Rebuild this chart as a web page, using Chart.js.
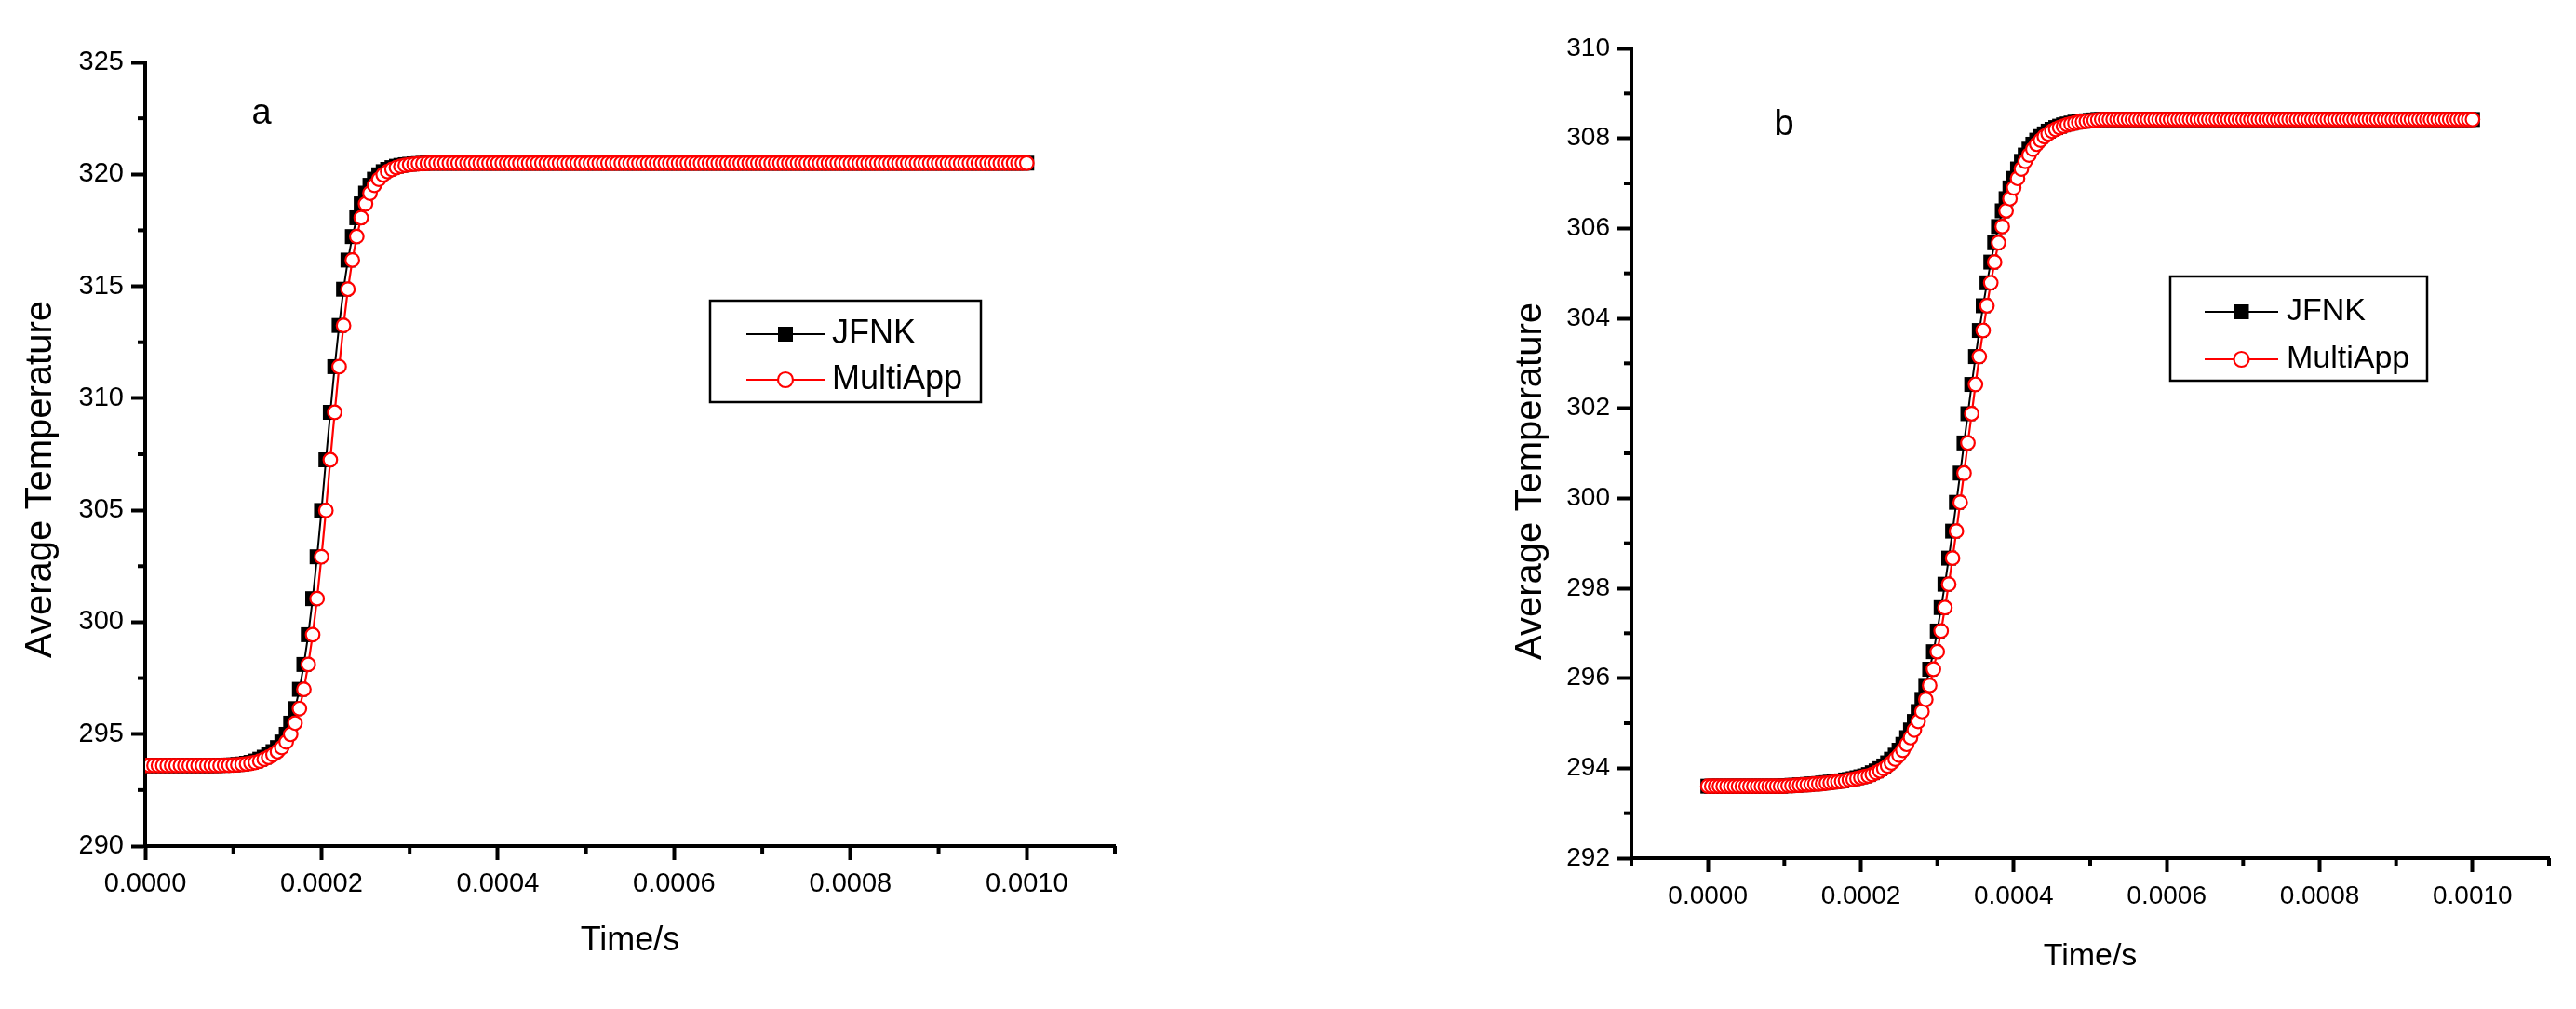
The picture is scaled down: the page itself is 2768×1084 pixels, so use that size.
<!DOCTYPE html>
<html>
<head>
<meta charset="utf-8">
<title>Average Temperature: JFNK vs MultiApp</title>
<script src="https://cdn.jsdelivr.net/npm/chart.js@4/dist/chart.umd.min.js"></script>
<style>
  html, body { margin: 0; padding: 0; background: #fff; }
  #page { position: relative; width: 2768px; height: 1084px; background: #fff; }
  #page canvas { position: absolute; top: 0; }
  #chartA { left: 0; }
  #chartB { left: 1384px; }
</style>
</head>
<body>
<div id="page">
  <canvas id="chartA" width="1384" height="1084"></canvas>
  <canvas id="chartB" width="1384" height="1084"></canvas>
</div>
<script>
// time steps in microseconds (axis labels are shown in seconds)
const timeUs = [
  0, 5, 10, 15, 20, 25, 30, 35, 40, 45, 50, 55, 60, 65, 70, 75, 80, 85, 90, 95,
  100, 105, 110, 115, 120, 125, 130, 135, 140, 145, 150, 155, 160, 165, 170, 175, 180, 185, 190, 195,
  200, 205, 210, 215, 220, 225, 230, 235, 240, 245, 250, 255, 260, 265, 270, 275, 280, 285, 290, 295,
  300, 305, 310, 315, 320, 325, 330, 335, 340, 345, 350, 355, 360, 365, 370, 375, 380, 385, 390, 395,
  400, 405, 410, 415, 420, 425, 430, 435, 440, 445, 450, 455, 460, 465, 470, 475, 480, 485, 490, 495,
  500, 505, 510, 515, 520, 525, 530, 535, 540, 545, 550, 555, 560, 565, 570, 575, 580, 585, 590, 595,
  600, 605, 610, 615, 620, 625, 630, 635, 640, 645, 650, 655, 660, 665, 670, 675, 680, 685, 690, 695,
  700, 705, 710, 715, 720, 725, 730, 735, 740, 745, 750, 755, 760, 765, 770, 775, 780, 785, 790, 795,
  800, 805, 810, 815, 820, 825, 830, 835, 840, 845, 850, 855, 860, 865, 870, 875, 880, 885, 890, 895,
  900, 905, 910, 915, 920, 925, 930, 935, 940, 945, 950, 955, 960, 965, 970, 975, 980, 985, 990, 995,
  1000
]

// panel a
const jfnkA = [
  293.6, 293.6, 293.6, 293.6, 293.6, 293.6, 293.6, 293.6, 293.6, 293.6,
  293.6, 293.6, 293.6, 293.6, 293.6, 293.6, 293.6, 293.61, 293.61, 293.62,
  293.63, 293.65, 293.67, 293.7, 293.74, 293.8, 293.88, 293.97, 294.08, 294.22,
  294.4, 294.65, 294.99, 295.49, 296.14, 297.0, 298.11, 299.44, 301.05, 302.92,
  304.99, 307.25, 309.37, 311.41, 313.25, 314.87, 316.17, 317.22, 318.06, 318.68,
  319.16, 319.51, 319.78, 319.98, 320.12, 320.22, 320.3, 320.36, 320.4, 320.43,
  320.45, 320.47, 320.48, 320.49, 320.5, 320.5, 320.5, 320.5, 320.5, 320.5,
  320.5, 320.5, 320.5, 320.5, 320.5, 320.5, 320.5, 320.5, 320.5, 320.5,
  320.5, 320.5, 320.5, 320.5, 320.5, 320.5, 320.5, 320.5, 320.5, 320.5,
  320.5, 320.5, 320.5, 320.5, 320.5, 320.5, 320.5, 320.5, 320.5, 320.5,
  320.5, 320.5, 320.5, 320.5, 320.5, 320.5, 320.5, 320.5, 320.5, 320.5,
  320.5, 320.5, 320.5, 320.5, 320.5, 320.5, 320.5, 320.5, 320.5, 320.5,
  320.5, 320.5, 320.5, 320.5, 320.5, 320.5, 320.5, 320.5, 320.5, 320.5,
  320.5, 320.5, 320.5, 320.5, 320.5, 320.5, 320.5, 320.5, 320.5, 320.5,
  320.5, 320.5, 320.5, 320.5, 320.5, 320.5, 320.5, 320.5, 320.5, 320.5,
  320.5, 320.5, 320.5, 320.5, 320.5, 320.5, 320.5, 320.5, 320.5, 320.5,
  320.5, 320.5, 320.5, 320.5, 320.5, 320.5, 320.5, 320.5, 320.5, 320.5,
  320.5, 320.5, 320.5, 320.5, 320.5, 320.5, 320.5, 320.5, 320.5, 320.5,
  320.5, 320.5, 320.5, 320.5, 320.5, 320.5, 320.5, 320.5, 320.5, 320.5,
  320.5, 320.5, 320.5, 320.5, 320.5, 320.5, 320.5, 320.5, 320.5, 320.5,
  320.5
]
const multiAppA = [
  293.6, 293.6, 293.6, 293.6, 293.6, 293.6, 293.6, 293.6, 293.6, 293.6,
  293.6, 293.6, 293.6, 293.6, 293.6, 293.6, 293.6, 293.6, 293.61, 293.61,
  293.62, 293.63, 293.65, 293.67, 293.7, 293.74, 293.8, 293.88, 293.97, 294.08,
  294.22, 294.4, 294.65, 294.99, 295.49, 296.14, 297.0, 298.11, 299.44, 301.05,
  302.92, 304.99, 307.25, 309.37, 311.41, 313.25, 314.87, 316.17, 317.22, 318.06,
  318.68, 319.16, 319.51, 319.78, 319.98, 320.12, 320.22, 320.3, 320.36, 320.4,
  320.43, 320.45, 320.47, 320.48, 320.49, 320.5, 320.5, 320.5, 320.5, 320.5,
  320.5, 320.5, 320.5, 320.5, 320.5, 320.5, 320.5, 320.5, 320.5, 320.5,
  320.5, 320.5, 320.5, 320.5, 320.5, 320.5, 320.5, 320.5, 320.5, 320.5,
  320.5, 320.5, 320.5, 320.5, 320.5, 320.5, 320.5, 320.5, 320.5, 320.5,
  320.5, 320.5, 320.5, 320.5, 320.5, 320.5, 320.5, 320.5, 320.5, 320.5,
  320.5, 320.5, 320.5, 320.5, 320.5, 320.5, 320.5, 320.5, 320.5, 320.5,
  320.5, 320.5, 320.5, 320.5, 320.5, 320.5, 320.5, 320.5, 320.5, 320.5,
  320.5, 320.5, 320.5, 320.5, 320.5, 320.5, 320.5, 320.5, 320.5, 320.5,
  320.5, 320.5, 320.5, 320.5, 320.5, 320.5, 320.5, 320.5, 320.5, 320.5,
  320.5, 320.5, 320.5, 320.5, 320.5, 320.5, 320.5, 320.5, 320.5, 320.5,
  320.5, 320.5, 320.5, 320.5, 320.5, 320.5, 320.5, 320.5, 320.5, 320.5,
  320.5, 320.5, 320.5, 320.5, 320.5, 320.5, 320.5, 320.5, 320.5, 320.5,
  320.5, 320.5, 320.5, 320.5, 320.5, 320.5, 320.5, 320.5, 320.5, 320.5,
  320.5, 320.5, 320.5, 320.5, 320.5, 320.5, 320.5, 320.5, 320.5, 320.5,
  320.5
]

// panel b
const jfnkB = [
  293.6, 293.6, 293.6, 293.6, 293.6, 293.6, 293.6, 293.6, 293.6, 293.6,
  293.6, 293.6, 293.6, 293.6, 293.6, 293.6, 293.6, 293.6, 293.6, 293.6,
  293.61, 293.61, 293.62, 293.62, 293.63, 293.63, 293.64, 293.65, 293.65, 293.66,
  293.67, 293.68, 293.69, 293.7, 293.71, 293.72, 293.74, 293.75, 293.77, 293.79,
  293.81, 293.83, 293.86, 293.9, 293.94, 293.99, 294.05, 294.12, 294.2, 294.29,
  294.4, 294.53, 294.68, 294.85, 295.04, 295.26, 295.53, 295.84, 296.2, 296.59,
  297.05, 297.57, 298.09, 298.67, 299.27, 299.91, 300.56, 301.23, 301.88, 302.53,
  303.15, 303.73, 304.28, 304.79, 305.25, 305.68, 306.04, 306.39, 306.66, 306.9,
  307.11, 307.32, 307.49, 307.63, 307.76, 307.87, 307.96, 308.04, 308.1, 308.16,
  308.2, 308.24, 308.27, 308.3, 308.32, 308.34, 308.36, 308.37, 308.38, 308.39,
  308.4, 308.41, 308.42, 308.42, 308.42, 308.42, 308.42, 308.42, 308.42, 308.42,
  308.42, 308.42, 308.42, 308.42, 308.42, 308.42, 308.42, 308.42, 308.42, 308.42,
  308.42, 308.42, 308.42, 308.42, 308.42, 308.42, 308.42, 308.42, 308.42, 308.42,
  308.42, 308.42, 308.42, 308.42, 308.42, 308.42, 308.42, 308.42, 308.42, 308.42,
  308.42, 308.42, 308.42, 308.42, 308.42, 308.42, 308.42, 308.42, 308.42, 308.42,
  308.42, 308.42, 308.42, 308.42, 308.42, 308.42, 308.42, 308.42, 308.42, 308.42,
  308.42, 308.42, 308.42, 308.42, 308.42, 308.42, 308.42, 308.42, 308.42, 308.42,
  308.42, 308.42, 308.42, 308.42, 308.42, 308.42, 308.42, 308.42, 308.42, 308.42,
  308.42, 308.42, 308.42, 308.42, 308.42, 308.42, 308.42, 308.42, 308.42, 308.42,
  308.42, 308.42, 308.42, 308.42, 308.42, 308.42, 308.42, 308.42, 308.42, 308.42,
  308.42
]
const multiAppB = [
  293.6, 293.6, 293.6, 293.6, 293.6, 293.6, 293.6, 293.6, 293.6, 293.6,
  293.6, 293.6, 293.6, 293.6, 293.6, 293.6, 293.6, 293.6, 293.6, 293.6,
  293.6, 293.61, 293.61, 293.62, 293.62, 293.63, 293.63, 293.64, 293.65, 293.65,
  293.66, 293.67, 293.68, 293.69, 293.7, 293.71, 293.72, 293.74, 293.75, 293.77,
  293.79, 293.81, 293.83, 293.86, 293.9, 293.94, 293.99, 294.05, 294.12, 294.2,
  294.29, 294.4, 294.53, 294.68, 294.85, 295.04, 295.26, 295.53, 295.84, 296.2,
  296.59, 297.05, 297.57, 298.09, 298.67, 299.27, 299.91, 300.56, 301.23, 301.88,
  302.53, 303.15, 303.73, 304.28, 304.79, 305.25, 305.68, 306.04, 306.39, 306.66,
  306.9, 307.11, 307.32, 307.49, 307.63, 307.76, 307.87, 307.96, 308.04, 308.1,
  308.16, 308.2, 308.24, 308.27, 308.3, 308.32, 308.34, 308.36, 308.37, 308.38,
  308.39, 308.4, 308.41, 308.42, 308.42, 308.42, 308.42, 308.42, 308.42, 308.42,
  308.42, 308.42, 308.42, 308.42, 308.42, 308.42, 308.42, 308.42, 308.42, 308.42,
  308.42, 308.42, 308.42, 308.42, 308.42, 308.42, 308.42, 308.42, 308.42, 308.42,
  308.42, 308.42, 308.42, 308.42, 308.42, 308.42, 308.42, 308.42, 308.42, 308.42,
  308.42, 308.42, 308.42, 308.42, 308.42, 308.42, 308.42, 308.42, 308.42, 308.42,
  308.42, 308.42, 308.42, 308.42, 308.42, 308.42, 308.42, 308.42, 308.42, 308.42,
  308.42, 308.42, 308.42, 308.42, 308.42, 308.42, 308.42, 308.42, 308.42, 308.42,
  308.42, 308.42, 308.42, 308.42, 308.42, 308.42, 308.42, 308.42, 308.42, 308.42,
  308.42, 308.42, 308.42, 308.42, 308.42, 308.42, 308.42, 308.42, 308.42, 308.42,
  308.42, 308.42, 308.42, 308.42, 308.42, 308.42, 308.42, 308.42, 308.42, 308.42,
  308.42
]

// labelled (major) ticks
const xMajorUs = [0, 200, 400, 600, 800, 1000]
const yMajorA = [290, 295, 300, 305, 310, 315, 320, 325]
const yMajorB = [292, 294, 296, 298, 300, 302, 304, 306, 308, 310]

const FONT = '"Liberation Sans", Arial, Helvetica, sans-serif'

function isMajor(list, v) {
    return list.some(m => Math.abs(m - v) < 1e-6)
}

// minor ticks, y title, legend box and panel letter
const panelExtras = {
    id: 'panelExtras',
    afterDraw(chart, args, o) {
        const ctx = chart.ctx
        const xs = chart.scales.x
        const ys = chart.scales.y
        ctx.save()
        ctx.strokeStyle = '#000'
        ctx.lineWidth = 4
        xs.ticks.forEach(t => {
            if (isMajor(xMajorUs, t.value)) return
            const px = xs.getPixelForValue(t.value)
            ctx.beginPath()
            ctx.moveTo(px, xs.top)
            ctx.lineTo(px, xs.top + 8)
            ctx.stroke()
        })
        ys.ticks.forEach(t => {
            if (isMajor(o.yMajor, t.value)) return
            const py = ys.getPixelForValue(t.value)
            ctx.beginPath()
            ctx.moveTo(ys.right - 8, py)
            ctx.lineTo(ys.right, py)
            ctx.stroke()
        })

        // y axis title
        ctx.save()
        ctx.translate(o.yTitle.x, o.yTitle.y)
        ctx.rotate(-Math.PI / 2)
        ctx.fillStyle = '#000'
        ctx.font = '40px ' + FONT
        ctx.textAlign = 'center'
        ctx.textBaseline = 'middle'
        ctx.fillText('Average Temperature', 0, 0)
        ctx.restore()

        // legend
        const lg = o.legend
        ctx.strokeStyle = '#000'
        ctx.lineWidth = 2.5
        ctx.strokeRect(lg.x, lg.y, lg.w, lg.h)
        chart.data.datasets.forEach((ds, i) => {
            const y = lg.rowY[i]
            ctx.strokeStyle = ds.borderColor
            ctx.lineWidth = ds.borderWidth
            ctx.beginPath()
            ctx.moveTo(lg.lineX1, y)
            ctx.lineTo(lg.lineX2, y)
            ctx.stroke()
            const mx = (lg.lineX1 + lg.lineX2) / 2
            if (ds.pointStyle === 'rect') {
                ctx.fillStyle = ds.pointBackgroundColor
                ctx.fillRect(mx - 8, y - 8, 16, 16)
            } else {
                ctx.beginPath()
                ctx.arc(mx, y, 8, 0, Math.PI * 2)
                ctx.fillStyle = ds.pointBackgroundColor
                ctx.fill()
                ctx.strokeStyle = ds.pointBorderColor
                ctx.lineWidth = ds.pointBorderWidth
                ctx.stroke()
            }
            ctx.fillStyle = '#000'
            ctx.font = lg.fontSize + 'px ' + FONT
            ctx.textAlign = 'left'
            ctx.textBaseline = 'middle'
            ctx.fillText(ds.label, lg.textX, y)
        })

        // panel letter
        ctx.fillStyle = '#000'
        ctx.font = '38px ' + FONT
        ctx.textAlign = 'center'
        ctx.textBaseline = 'alphabetic'
        ctx.fillText(o.letter.text, o.letter.x, o.letter.y)
        ctx.restore()
    }
}

function buildChart(p) {
    const jfnkPts = timeUs.map((t, i) => ({ x: t, y: p.jfnk[i] }))
    const multiPts = timeUs.map((t, i) => ({ x: t, y: p.multiApp[i] }))
    return new Chart(document.getElementById(p.canvas), {
        type: 'line',
        data: {
            datasets: [
                {
                    label: 'JFNK',
                    data: jfnkPts,
                    borderColor: '#000000',
                    borderWidth: 2,
                    pointStyle: 'rect',
                    pointRadius: 11.3,
                    pointBackgroundColor: '#000000',
                    pointBorderColor: '#000000',
                    pointBorderWidth: 0,
                    order: 2
                },
                {
                    label: 'MultiApp',
                    data: multiPts,
                    borderColor: '#ff0000',
                    borderWidth: 2.2,
                    pointStyle: 'circle',
                    pointRadius: 7.3,
                    pointBackgroundColor: '#ffffff',
                    pointBorderColor: '#ff0000',
                    pointBorderWidth: 2.2,
                    order: 1
                }
            ]
        },
        options: {
            responsive: false,
            animation: false,
            events: [],
            layout: { padding: p.pad },
            plugins: {
                legend: { display: false },
                tooltip: { enabled: false },
                panelExtras: { yMajor: p.yMajor, legend: p.legend, letter: p.letter, yTitle: p.yTitle }
            },
            scales: {
                x: {
                    type: 'linear',
                    min: p.xMin,
                    max: p.xMax,
                    afterFit: s => { s.height = p.xHeight },
                    border: { display: true, color: '#000', width: 4 },
                    grid: {
                        drawOnChartArea: false,
                        drawTicks: true,
                        tickLength: 15,
                        tickWidth: 4,
                        tickColor: c => isMajor(xMajorUs, c.tick.value) ? '#000' : 'rgba(0,0,0,0)'
                    },
                    ticks: {
                        stepSize: 100,
                        autoSkip: false,
                        maxRotation: 0,
                        color: '#000',
                        padding: 9,
                        font: { family: FONT, size: p.tickFont },
                        callback: v => isMajor(xMajorUs, v) ? (v / 1e6).toFixed(4) : ''
                    },
                    title: {
                        display: true,
                        text: 'Time/s',
                        color: '#000',
                        padding: 0,
                        font: { family: FONT, size: p.xTitleFont }
                    }
                },
                y: {
                    type: 'linear',
                    min: p.yMin,
                    max: p.yMax,
                    afterFit: s => { s.width = p.yWidth },
                    border: { display: true, color: '#000', width: 4 },
                    grid: {
                        drawOnChartArea: false,
                        drawTicks: true,
                        tickLength: 15,
                        tickWidth: 4,
                        tickColor: c => isMajor(p.yMajor, c.tick.value) ? '#000' : 'rgba(0,0,0,0)'
                    },
                    ticks: {
                        stepSize: p.yStep,
                        autoSkip: false,
                        color: '#000',
                        padding: 8,
                        font: { family: FONT, size: p.tickFont },
                        callback: v => isMajor(p.yMajor, v) ? String(v) : ''
                    },
                    title: { display: false }
                }
            }
        },
        plugins: [panelExtras]
    })
}

buildChart({
    canvas: 'chartA', jfnk: jfnkA, multiApp: multiAppA,
    xMin: 0, xMax: 1100, yMin: 290, yMax: 325, yStep: 2.5, yMajor: yMajorA,
    pad: { left: 20, top: 67, right: 186, bottom: 51 },
    yWidth: 136, xHeight: 124,
    tickFont: 29, xTitleFont: 36,
    yTitle: { x: 44, y: 515 },
    legend: { x: 763, y: 323, w: 291, h: 109, lineX1: 802, lineX2: 886, textX: 894, rowY: [359, 408], fontSize: 36 },
    letter: { text: 'a', x: 281, y: 133 }
})

buildChart({
    canvas: 'chartB', jfnk: jfnkB, multiApp: multiAppB,
    xMin: -100, xMax: 1100, yMin: 292, yMax: 310, yStep: 1, yMajor: yMajorB,
    pad: { left: 237, top: 52, right: 29, bottom: 36 },
    yWidth: 132, xHeight: 126,
    tickFont: 28, xTitleFont: 34,
    yTitle: { x: 261, y: 517 },
    legend: { x: 948, y: 297, w: 276, h: 112, lineX1: 985, lineX2: 1064, textX: 1073, rowY: [335, 386], fontSize: 34 },
    letter: { text: 'b', x: 533, y: 145 }
})
</script>
</body>
</html>
